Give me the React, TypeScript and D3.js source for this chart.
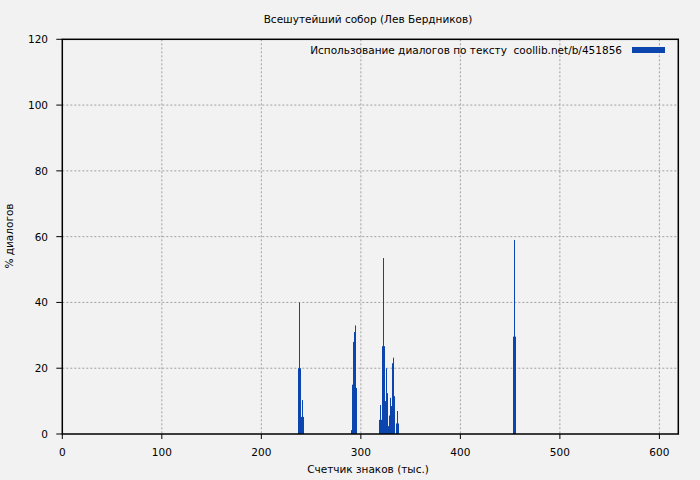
import * as d3 from 'd3'

const title = 'Всешутейший собор (Лев Бердников)'
const legendLabel = 'Использование диалогов по тексту  coollib.net/b/451856'
const xTitle = 'Счетчик знаков (тыс.)'
const yTitle = '% диалогов'

const xTicks = [0, 100, 200, 300, 400, 500, 600]
const yTicks = [0, 20, 40, 60, 80, 100, 120]

// wide boxes (3 units) with a thin spike at their centre
const boxX = [238, 241, 454.5]
const boxY = [20, 5.2, 29.6]
const spikeX = [238, 241, 454.5]
const spikeY = [40, 10.3, 59]

// narrow columns (1 unit)
const colX = [
  291, 292, 293, 294, 295, 296,
  319, 320, 321, 322, 323, 324, 325, 326, 327, 328, 329, 330, 331, 332, 333, 334, 335, 336, 337, 338
]
const colY = [
  1.2, 15, 28, 31, 33, 14,
  4.3, 8.8, 4.3, 26.7, 53.5, 26.7, 10, 20, 12.4, 2.4, 5.6, 11, 8.5, 21.5, 23.2, 11.5, 0, 3.2, 7, 3.2
]

const W = 700
const H = 480
const blue = '#0b45ad'
const font = 'DejaVu Sans, sans-serif'

const App = () => {
  const x = d3.scaleLinear().domain([0, 619]).range([62.3, 678.3])
  const y = d3.scaleLinear().domain([0, 120]).range([434, 39.3])
  const left = x(0)
  const right = x(619)
  const top = y(120)
  const bottom = y(0)

  return (
    <svg width={W} height={H} style={{ position: 'absolute', left: 0, top: 0 }}>
      <rect width={W} height={H} fill='#f2f2f2' />
      <text x={368} y={23} textAnchor='middle' fontFamily={font} fontSize={10.5} fill='#000'>
        {title}
      </text>

      {/* grid */}
      {xTicks.filter((t) => t > 0).map((t) => (
        <line key={'gx' + t} x1={x(t)} x2={x(t)} y1={top} y2={bottom}
          stroke='#a0a0a0' strokeDasharray='2,2' />
      ))}
      {yTicks.filter((t) => t > 0 && t < 120).map((t) => (
        <line key={'gy' + t} x1={left} x2={right} y1={y(t)} y2={y(t)}
          stroke='#a0a0a0' strokeDasharray='2,2' />
      ))}

      {/* bars */}
      {boxX.map((v, i) => (
        <rect key={'b' + i} x={Math.round(x(v - 1.5))} width={3} y={y(boxY[i])}
          height={bottom - y(boxY[i])} fill={blue} />
      ))}
      {spikeX.map((v, i) => (
        <rect key={'s' + i} x={Math.round(x(v - 0.5))} width={1} y={y(spikeY[i])}
          height={bottom - y(spikeY[i])} fill={blue} />
      ))}
      {colX.map((v, i) => (
        <rect key={'c' + i} x={Math.round(x(v - 0.5))} width={1} y={y(colY[i])}
          height={bottom - y(colY[i])} fill={blue} />
      ))}

      {/* border */}
      <rect x={left} y={top} width={right - left} height={bottom - top}
        fill='none' stroke='#000' strokeWidth={1.5} />

      {/* ticks */}
      {xTicks.map((t) => (
        <g key={'tx' + t}>
          <line x1={x(t)} x2={x(t)} y1={bottom} y2={bottom + 5} stroke='#000' />
          <text x={x(t)} y={456} textAnchor='middle' fontFamily={font} fontSize={10.5} fill='#000'>
            {t}
          </text>
        </g>
      ))}
      {yTicks.map((t) => (
        <g key={'ty' + t}>
          <line x1={left - 6} x2={left} y1={y(t)} y2={y(t)} stroke='#000' />
          <text x={48} y={y(t) + 4} textAnchor='end' fontFamily={font} fontSize={10.5} fill='#000'>
            {t}
          </text>
        </g>
      ))}

      <text x={368} y={473} textAnchor='middle' fontFamily={font} fontSize={10.5} fill='#000'>
        {xTitle}
      </text>
      <text transform='translate(13,236) rotate(-90)' textAnchor='middle' fontFamily={font}
        fontSize={10.5} fill='#000'>
        {yTitle}
      </text>

      {/* legend */}
      <text x={622} y={54} textAnchor='end' fontFamily={font} fontSize={10.5} fill='#000'
        style={{ whiteSpace: 'pre' }}>
        {legendLabel}
      </text>
      <rect x={632} y={47} width={33} height={6} fill={blue} />
    </svg>
  )
}

export default App
